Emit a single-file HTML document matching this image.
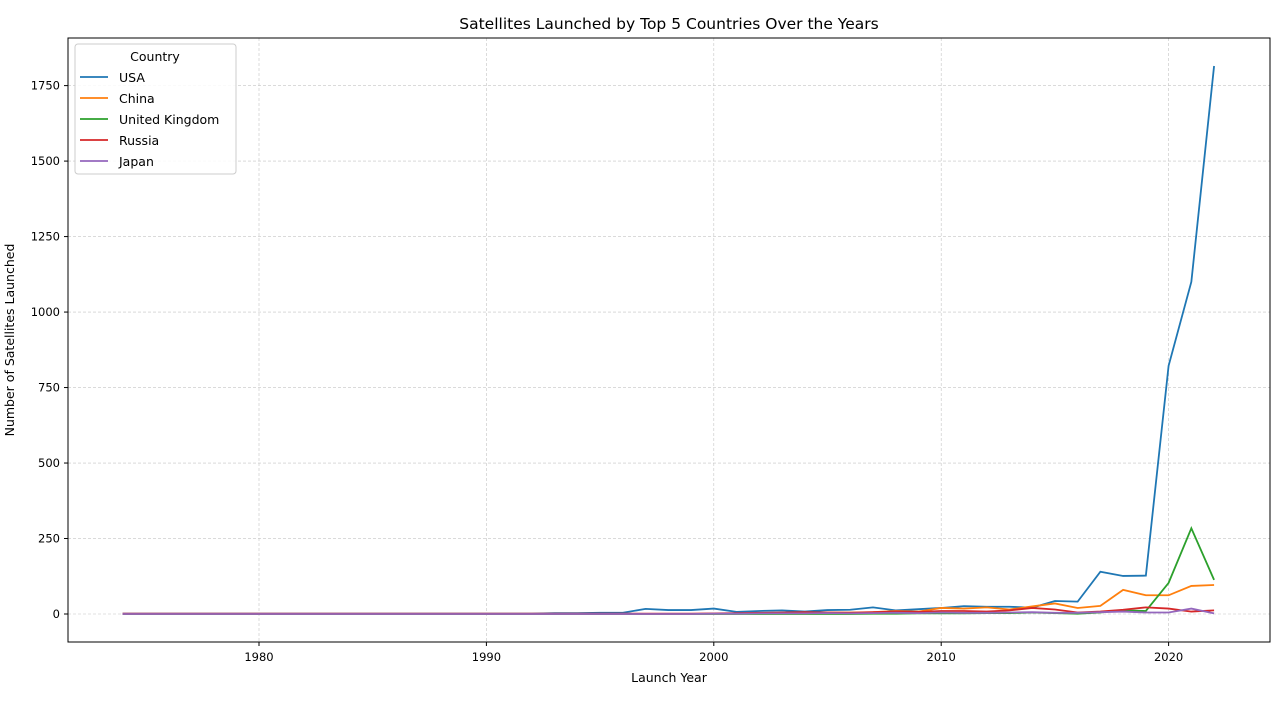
<!DOCTYPE html>
<html><head><meta charset="utf-8"><style>
body{margin:0;background:#fff;font-family:"Liberation Sans","DejaVu Sans",sans-serif}
svg text{font-family:"DejaVu Sans","Liberation Sans",sans-serif}
</style></head><body>
<svg id="chart" width="1282" height="700" xmlns="http://www.w3.org/2000/svg">
<text x="669" y="29" font-size="15.5" text-anchor="middle">Satellites Launched by Top 5 Countries Over the Years</text>
<g id="grid"></g><g id="axes"></g><g id="lines"></g>
<text x="669" y="682" font-size="12.5" text-anchor="middle">Launch Year</text>
<text transform="translate(14,340) rotate(-90)" font-size="12.5" text-anchor="middle">Number of Satellites Launched</text>
<rect x="68" y="38" width="1202" height="604" fill="none" stroke="#000" stroke-width="1"/>
<g id="legend"></g>
</svg>
<script>
const years=[];for(let y=1974;y<=2022;y++)years.push(y);
const seriesNames=["USA","China","United Kingdom","Russia","Japan"];
const colors=["#1f77b4","#ff7f0e","#2ca02c","#d62728","#9467bd"];
const usa=[1,1,1,1,1,1,1,1,1,1,1,1,1,1,1,1,1,1,1,3,3,4,4,17,13,13,18,7,10,12,8,13,14,22,12,16,20,26,24,24,21,43,41,140,126,127,822,1100,1815];
const china=[0,0,0,0,0,0,0,0,0,0,0,0,0,0,0,0,0,0,0,0,0,0,0,0,0,0,1,1,2,3,4,5,5,6,10,8,20,18,22,15,25,35,20,27,80,62,62,93,96];
const uk=[0,0,0,0,0,0,0,0,0,0,0,0,0,0,0,0,0,0,0,0,0,0,0,0,0,0,0,0,0,0,0,0,0,1,1,2,2,2,3,3,5,3,1,5,12,10,103,284,113];
const russia=[1,1,1,1,1,1,1,1,1,1,1,1,1,1,1,1,1,1,1,1,1,1,1,1,1,1,2,3,4,5,6,5,4,6,8,7,10,10,8,12,20,15,5,8,14,22,18,8,12];
const japan=[0,0,0,0,0,0,0,0,0,0,0,0,0,0,0,0,0,0,0,0,0,0,0,0,0,0,1,1,2,2,2,3,2,3,4,3,5,4,4,5,6,4,4,6,8,5,5,18,2];
const allSeries=[usa,china,uk,russia,japan];
const xTicks=[1980,1990,2000,2010,2020];
const yTicks=[0,250,500,750,1000,1250,1500,1750];
const X=v=>259+(v-1980)*22.74;
const Y=v=>614-v*0.30194;
const NS="http://www.w3.org/2000/svg";
function mk(p,t,a){const e=document.createElementNS(NS,t);for(const k in a)e.setAttribute(k,a[k]);document.getElementById(p).appendChild(e);return e;}
xTicks.forEach(t=>{
 const g=mk("grid","line",{x1:X(t),x2:X(t),y1:38,y2:642,stroke:"#c4c4c4","stroke-width":0.6,"stroke-dasharray":"3,2"});
 
 
 mk("axes","line",{x1:X(t),x2:X(t),y1:642,y2:646,stroke:"#000"});
 const l=mk("axes","text",{x:X(t),y:661,"font-size":11.5,"text-anchor":"middle"});l.textContent=t;
 
 
});
yTicks.forEach(t=>{
 const g=mk("grid","line",{x1:68,x2:1270,y1:Y(t),y2:Y(t),stroke:"#c4c4c4","stroke-width":0.6,"stroke-dasharray":"3,2"});
 
 
 mk("axes","line",{x1:64,x2:68,y1:Y(t),y2:Y(t),stroke:"#000"});
 const l=mk("axes","text",{x:60,y:Y(t)+4,"font-size":11.5,"text-anchor":"end"});l.textContent=t;
 
 
});
allSeries.forEach((s,i)=>{
 const p=mk("lines","polyline",{points:s.map((v,j)=>X(years[j])+","+Y(v)).join(" "),fill:"none",stroke:colors[i],"stroke-width":1.8});
 
 
});
const box=mk("legend","rect",{x:75,y:44,width:161,height:130,rx:3,fill:"#fff","fill-opacity":0.85,stroke:"#ccc"});


const lt=mk("legend","text",{x:155,y:61,"font-size":12.5,"text-anchor":"middle"});lt.textContent="Country";


seriesNames.forEach((n,i)=>{
 const yy=77+i*21;
 mk("legend","line",{x1:80,x2:108,y1:yy,y2:yy,stroke:colors[i],"stroke-width":1.8});
 const t=mk("legend","text",{x:119,y:yy+5,"font-size":12.5});t.textContent=n;
 
 
});
</script>
</body></html>
